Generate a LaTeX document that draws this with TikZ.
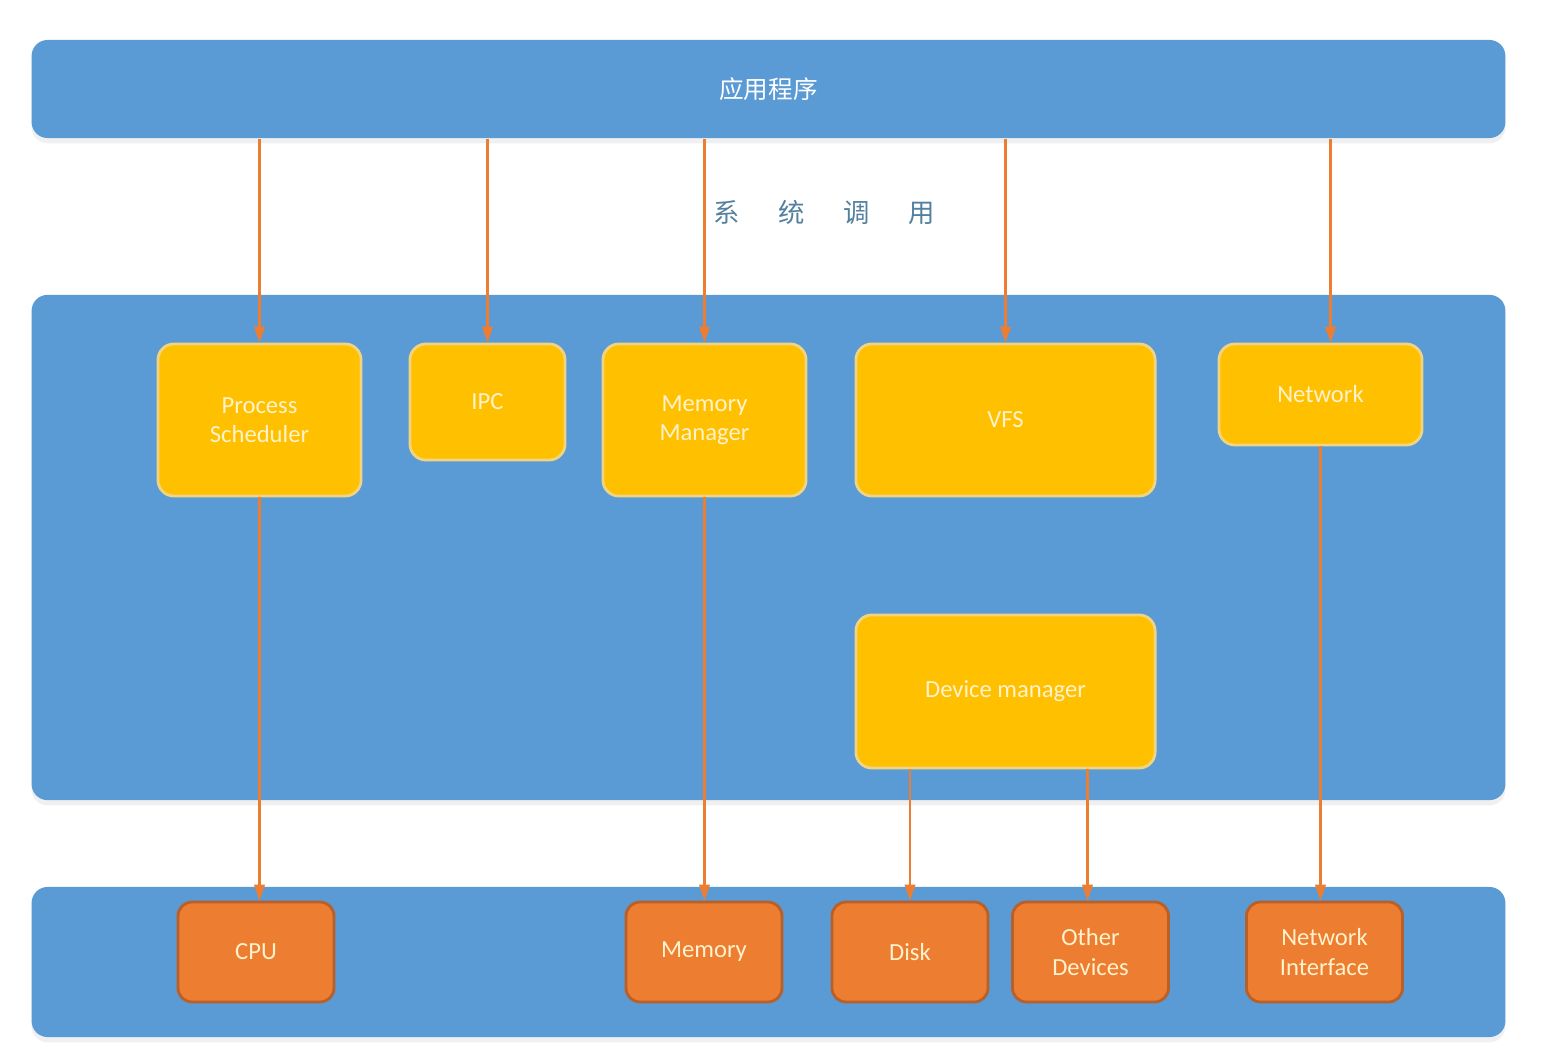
\documentclass[tikz,border=0pt]{standalone}
\usepackage{fontspec}
\setmainfont{Carlito}
\newfontfamily\cjk{Noto Sans CJK SC}
\usetikzlibrary{arrows.meta,shadows}
\definecolor{layerblue}{RGB}{91,155,213}
\definecolor{modyellow}{RGB}{255,192,0}
\definecolor{modedge}{RGB}{240,212,130}
\definecolor{hworange}{RGB}{237,125,49}
\definecolor{hwedge}{RGB}{185,95,40}
\definecolor{labelcream}{RGB}{255,242,204}
\definecolor{callgray}{RGB}{82,128,158}
\begin{document}
\begin{tikzpicture}[x=0.01cm, y=-0.01cm,
    layer/.style={fill=layerblue, rounded corners=0.16cm, minimum width=14.73cm,
      drop shadow={opacity=0.12, shadow xshift=0pt, shadow yshift=-1.5pt}},
    module/.style={fill=modyellow, draw=modedge, line width=0.8pt, rounded corners=0.16cm,
      text=labelcream, font=\fontsize{7}{8.3}\selectfont, align=center},
    device/.style={fill=hworange, draw=hwedge, line width=0.8pt, rounded corners=0.14cm,
      text=labelcream, font=\fontsize{7}{8.3}\selectfont, align=center,
      minimum width=1.56cm, minimum height=1cm},
    call/.style={draw=hworange, line width=0.6pt, -{Triangle[width=3pt,length=4.5pt]}}]
  % Three layers: applications, kernel, hardware.
  \useasboundingbox (0,0) rectangle (1554,1046);
  \node[layer, minimum height=0.98cm, text=white, font=\cjk\fontsize{7}{8}\selectfont] (app) at (768.5,89) {应用程序};
  \node[layer, minimum height=5.05cm] (kernel) at (768.5,547.5) {};
  \node[layer, minimum height=1.5cm] (hw) at (768.5,962) {};
  \node[text=callgray, font=\cjk\fontsize{7.5}{9}\selectfont] (syscall) at (824,212)
    {系\hspace{11pt}统\hspace{11pt}调\hspace{11pt}用};

  \node[module, minimum width=2.03cm, minimum height=1.52cm] (ps) at (259.5,420) {Process\\Scheduler};
  \node[module, minimum width=1.55cm, minimum height=1.16cm] (ipc) at (487.5,402) {IPC};
  \node[module, minimum width=2.03cm, minimum height=1.52cm] (mm) at (704.5,420) {Memory\\Manager};
  \node[module, minimum width=2.99cm, minimum height=1.52cm] (vfs) at (1005.5,420) {VFS};
  \node[module, minimum width=2.03cm, minimum height=1.01cm] (net) at (1320.5,394.5) {Network};
  \node[module, minimum width=2.99cm, minimum height=1.53cm] (dev) at (1005.5,691.5) {Device manager};

  \node[device] (cpu) at (256,952) {CPU};
  \node[device] (mem) at (704,952) {Memory};
  \node[device] (disk) at (910,952) {Disk};
  \node[device] (other) at (1090.5,952) {Other\\Devices};
  \node[device] (netif) at (1324.5,952) {Network\\Interface};

  \draw[call] (ps.north |- app.south) -- (ps.north);
  \draw[call] (ipc.north |- app.south) -- (ipc.north);
  \draw[call] (mm.north |- app.south) -- (mm.north);
  \draw[call] (vfs.north |- app.south) -- (vfs.north);
  \draw[call] ([xshift=0.1cm]net.north |- app.south) -- ([xshift=0.1cm]net.north);
  \draw[call] (ps.south) -- (ps.south |- cpu.north);
  \draw[call] (mm.south) -- (mm.south |- mem.north);
  \draw[call] (disk.north |- dev.south) -- (disk.north);
  \draw[call] ([xshift=-0.03cm]other.north |- dev.south) -- ([xshift=-0.03cm]other.north);
  \draw[call] (net.south) -- (net.south |- netif.north);
\end{tikzpicture}
\end{document}
